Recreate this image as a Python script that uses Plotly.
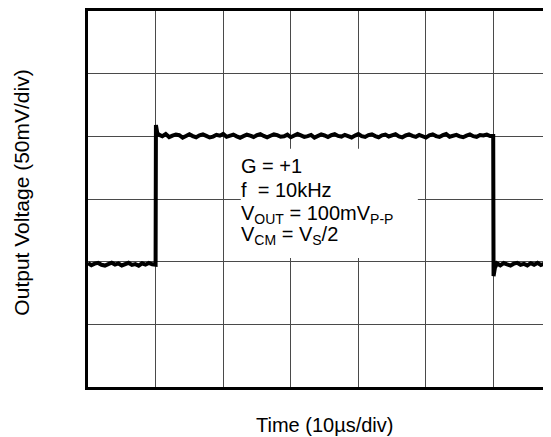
import plotly.graph_objects as go

# time in microseconds, voltage in mV
t_low1 = [0.0, 0.5, 1.0, 1.5, 2.0, 2.5, 3.0, 3.5, 4.0, 4.5,
          5.0, 5.5, 6.0, 6.5, 7.0, 7.5, 8.0, 8.5, 9.0, 9.5, 9.95]
v_low1 = [98.9, 97.2, 98.4, 99.0, 97.5, 96.9, 98.1, 99.2, 97.7, 98.6,
          97.0, 98.3, 99.1, 97.4, 98.0, 96.8, 98.7, 97.6, 99.0, 97.9, 97.6]

t_rise = [10.0, 10.05, 10.25]
v_rise = [97.5, 209.0, 202.5]

t_high = [10.5, 11.0, 11.5, 12.0, 12.5, 13.0, 13.5, 14.0, 14.5, 15.0,
          15.5, 16.0, 16.5, 17.0, 17.5, 18.0, 18.5, 19.0, 19.5, 20.0,
          20.5, 21.0, 21.5, 22.0, 22.5, 23.0, 23.5, 24.0, 24.5, 25.0,
          25.5, 26.0, 26.5, 27.0, 27.5, 28.0, 28.5, 29.0, 29.5, 30.0,
          30.5, 31.0, 31.5, 32.0, 32.5, 33.0, 33.5, 34.0, 34.5, 35.0,
          35.5, 36.0, 36.5, 37.0, 37.5, 38.0, 38.5, 39.0, 39.5, 40.0,
          40.5, 41.0, 41.5, 42.0, 42.5, 43.0, 43.5, 44.0, 44.5, 45.0,
          45.5, 46.0, 46.5, 47.0, 47.5, 48.0, 48.5, 49.0, 49.5, 50.0,
          50.5, 51.0, 51.5, 52.0, 52.5, 53.0, 53.5, 54.0, 54.5, 55.0,
          55.5, 56.0, 56.5, 57.0, 57.5, 58.0, 58.5, 59.0, 59.5]
v_high = [201.3, 200.1, 201.8, 199.4, 200.6, 201.5, 200.9, 199.0, 200.3, 201.7,
          200.2, 199.3, 200.8, 201.6, 200.4, 199.1, 199.8, 201.2, 200.5, 201.9,
          199.6, 200.7, 201.4, 200.0, 198.9, 200.2, 201.3, 200.6, 199.5, 200.9,
          201.8, 200.3, 199.2, 200.5, 201.6, 201.0, 199.7, 200.1, 201.4, 199.3,
          200.6, 201.9, 200.8, 199.6, 200.2, 201.1, 199.0, 200.4, 201.5, 200.7,
          199.4, 200.9, 201.7, 200.3, 199.8, 201.2, 200.5, 199.1, 200.6, 201.8,
          200.1, 199.5, 201.0, 201.6, 200.2, 199.3, 200.8, 201.4, 199.9, 200.5,
          201.7, 200.0, 199.2, 200.7, 201.5, 200.4, 199.6, 201.1, 200.3, 199.0,
          200.8, 201.6, 200.2, 199.5, 200.9, 201.8, 199.7, 200.3, 201.2, 200.0,
          199.3, 200.6, 201.5, 200.1, 199.6, 201.0, 200.7, 201.4, 200.2]

t_fall = [59.95, 60.0, 60.2]
v_fall = [200.2, 88.5, 95.0]

t_low2 = [60.5, 61.0, 61.5, 62.0, 62.5, 63.0, 63.5, 64.0, 64.5, 65.0,
          65.5, 66.0, 66.5, 67.0, 67.5, 68.0, 68.5, 69.0]
v_low2 = [98.6, 97.1, 98.9, 97.8, 96.9, 98.4, 99.1, 97.5, 98.2, 97.0,
          98.8, 97.6, 99.0, 97.3, 98.5, 97.9, 96.8, 98.7]

time_us = t_low1 + t_rise + t_high + t_fall + t_low2
volt_mv = v_low1 + v_rise + v_high + v_fall + v_low2

x_range = [0, 68.5]
y_range = [0, 300]

info_lines = ["G = +1", "f  = 10kHz", "V<sub>OUT</sub> = 100mV<sub>P-P</sub>",
              "V<sub>CM</sub> = V<sub>S</sub>/2"]
info_y = [176.0, 157.5, 138.0, 121.0]

fig = go.Figure()
fig.add_trace(go.Scatter(x=time_us, y=volt_mv, mode="lines",
                         line=dict(color="black", width=4),
                         hoverinfo="skip", showlegend=False))

font_family = "Liberation Sans, Arial, sans-serif"

# white backing panel behind the condition text (covers grid, not the trace)
fig.add_shape(type="rect", xref="x", yref="y", x0=22.6, x1=48.8, y0=103.0, y1=190.0,
              fillcolor="white", line=dict(width=0), layer="between")

annotations = []
for txt, yv in zip(info_lines, info_y):
    annotations.append(dict(text=txt, xref="x", yref="y", x=22.0, y=yv,
                            xanchor="left", yanchor="middle", align="left",
                            showarrow=False, borderpad=3,
                            font=dict(size=20, family=font_family, color="black")))
annotations.append(dict(text="Time (10µs/div)", xref="paper", yref="paper",
                        x=0.511, y=-0.1005, xanchor="center", yanchor="middle",
                        showarrow=False,
                        font=dict(size=20, family=font_family, color="black")))
annotations.append(dict(text="Output Voltage (50mV/div)", xref="paper", yref="paper",
                        x=-0.1425, y=0.517, xanchor="center", yanchor="middle",
                        showarrow=False, textangle=-90,
                        font=dict(size=21, family=font_family, color="black")))

fig.update_layout(
    width=543, height=429,
    margin=dict(l=80, r=0, t=1, b=50),
    paper_bgcolor="white", plot_bgcolor="white",
    font=dict(family=font_family, color="black"),
    showlegend=False,
    xaxis=dict(range=x_range, dtick=10, tick0=0, showgrid=True, gridcolor="#4a4a4a",
               gridwidth=1, showticklabels=False, ticks="", zeroline=False,
               showline=True, mirror=True, linecolor="black", linewidth=3),
    yaxis=dict(range=y_range, dtick=50, tick0=0, showgrid=True, gridcolor="#4a4a4a",
               gridwidth=1, showticklabels=False, ticks="", zeroline=False,
               showline=True, mirror=False, linecolor="black", linewidth=3),
    annotations=annotations,
)

fig.write_html("out.html")
